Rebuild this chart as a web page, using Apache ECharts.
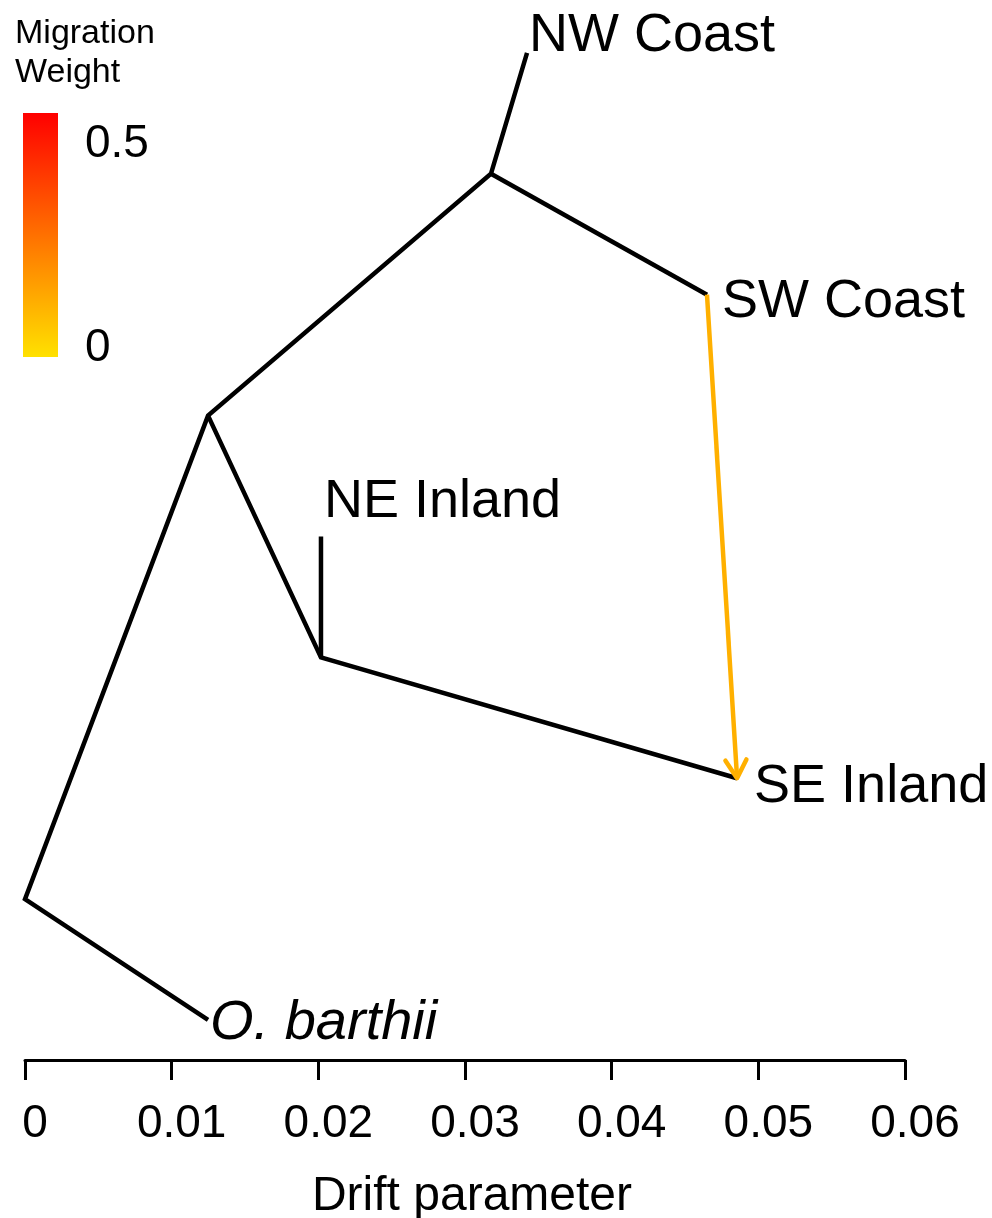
<!DOCTYPE html>
<html>
<head>
<meta charset="utf-8">
<script src="https://cdn.jsdelivr.net/npm/echarts@6/dist/echarts.min.js"></script>
<style>
  html, body { margin: 0; padding: 0; background: #ffffff; }
  #chart { width: 992px; height: 1218px; }
</style>
</head>
<body>
<div id="chart"></div>
<script>
// Tree nodes: drift (x) and vertical order (y; tips are 1..5, internal nodes sit between)
const nodeNames = ['root', 'O. barthii', 'A', 'B', 'NW Coast', 'SW Coast', 'C', 'NE Inland', 'SE Inland'];
const nodeDrift = [0.0, 0.01248, 0.01248, 0.03177, 0.03423, 0.0465, 0.02018, 0.02018, 0.04855];
const nodeOrder = [1.5, 1, 3.5, 4.5, 5, 4, 2.5, 3, 2];

// Branch chains through the tree (each drawn as one connected stroke)
const branchChains = [
  ['O. barthii', 'root', 'A', 'B', 'NW Coast'],
  ['B', 'SW Coast'],
  ['A', 'C', 'SE Inland'],
  ['C', 'NE Inland']
];

// Tip labels
const tipNames = ['NW Coast', 'SW Coast', 'NE Inland', 'SE Inland', 'O. barthii'];

// Migration edges
const migFrom = ['SW Coast'];
const migTo = ['SE Inland'];
const migWeight = [0.11];

// Drift axis ticks
const driftTicks = [0, 0.01, 0.02, 0.03, 0.04, 0.05, 0.06];
const driftTickLabels = ['0', '0.01', '0.02', '0.03', '0.04', '0.05', '0.06'];

// Migration weight colour scale
const weightMax = 0.5;
const weightLowColor = [255, 225, 0];
const weightHighColor = [255, 0, 0];

function weightColor(w) {
  const t = Math.max(0, Math.min(1, w / weightMax));
  const c = weightLowColor.map((v, i) => Math.round(v + (weightHighColor[i] - v) * t));
  return 'rgb(' + c.join(',') + ')';
}

function nodePoint(name) {
  const i = nodeNames.indexOf(name);
  return [nodeDrift[i], nodeOrder[i]];
}

const FONT = "'Liberation Sans', Arial, sans-serif";

// Label placement for each tip
const tipLabelStyle = {
  'NW Coast':   { offset: [2, -17], fontSize: 54 },
  'SW Coast':   { offset: [15, 7], fontSize: 54 },
  'NE Inland':  { offset: [3, -34], fontSize: 54 },
  'SE Inland':  { offset: [17, 9], fontSize: 54 },
  'O. barthii': { offset: [2, 3], fontSize: 56, fontStyle: 'italic' }
};

const series = [];

branchChains.forEach(chain => {
  series.push({
    type: 'line',
    data: chain.map(nodePoint),
    symbol: 'none',
    silent: true,
    animation: false,
    lineStyle: { color: '#000000', width: 4.5, cap: 'butt', join: 'miter' },
    z: 2
  });
});

series.push({
  type: 'scatter',
  symbolSize: 0,
  silent: true,
  animation: false,
  itemStyle: { opacity: 1 },
  data: tipNames.map(n => {
    const st = tipLabelStyle[n];
    return {
      name: n,
      value: nodePoint(n),
      label: {
        show: true,
        position: 'right',
        distance: 0,
        offset: st.offset,
        color: '#000000',
        opacity: 1,
        fontFamily: FONT,
        fontSize: st.fontSize,
        fontStyle: st.fontStyle || 'normal'
      }
    };
  }),
  label: {
    show: true,
    formatter: p => p.name,
    color: '#000000',
    opacity: 1
  },
  z: 3
});

// Migration arrows drawn with an open V head
series.push({
  type: 'custom',
  silent: true,
  animation: false,
  data: migFrom.map((f, i) => {
    const a = nodePoint(f), b = nodePoint(migTo[i]);
    return [a[0], a[1], b[0], b[1], migWeight[i]];
  }),
  encode: { x: [0, 2], y: [1, 3] },
  renderItem: function (params, api) {
    const p0 = api.coord([api.value(0), api.value(1)]);
    const p1 = api.coord([api.value(2), api.value(3)]);
    const col = weightColor(api.value(4));
    const ang = Math.atan2(p1[1] - p0[1], p1[0] - p0[0]);
    const headLen = 21, spread = Math.PI / 6;
    const h1 = [p1[0] - headLen * Math.cos(ang - spread), p1[1] - headLen * Math.sin(ang - spread)];
    const h2 = [p1[0] - headLen * Math.cos(ang + spread), p1[1] - headLen * Math.sin(ang + spread)];
    const style = { stroke: col, lineWidth: 4.5, fill: null, lineCap: 'round', lineJoin: 'round' };
    return {
      type: 'group',
      children: [
        { type: 'line', shape: { x1: p0[0], y1: p0[1], x2: p1[0], y2: p1[1] }, style: Object.assign({}, style, { lineCap: 'butt' }) },
        { type: 'polyline', shape: { points: [h1, p1, h2] }, style: style }
      ]
    };
  },
  z: 4
});

const chart = echarts.init(document.getElementById('chart'), null, { renderer: 'canvas' });

chart.setOption({
  backgroundColor: '#ffffff',
  animation: false,
  grid: { left: 25, right: 87, top: 0, bottom: 158, containLabel: false, outerBoundsMode: 'none' },
  xAxis: {
    type: 'value',
    min: driftTicks[0],
    max: driftTicks[driftTicks.length - 1],
    interval: driftTicks[1] - driftTicks[0],
    splitLine: { show: false },
    axisLine: { show: true, onZero: false, lineStyle: { color: '#000000', width: 3 } },
    axisTick: { show: true, inside: false, length: 20, lineStyle: { color: '#000000', width: 3 } },
    axisLabel: {
      show: true,
      margin: 41,
      color: '#000000',
      fontFamily: FONT,
      fontSize: 46,
      padding: [0, 0, 0, 20],
      showMinLabel: true,
      showMaxLabel: true,
      hideOverlap: false,
      formatter: v => {
        const i = driftTicks.findIndex(t => Math.abs(t - v) < 1e-9);
        return i >= 0 ? driftTickLabels[i] : '';
      }
    },
    name: 'Drift parameter',
    nameLocation: 'middle',
    nameGap: 113,
    nameTextStyle: { color: '#000000', fontFamily: FONT, fontSize: 48, padding: [0, 0, 0, 14] }
  },
  yAxis: {
    type: 'value',
    show: false,
    min: 0.8345,
    max: 5.219,
    splitLine: { show: false }
  },
  graphic: [
    { type: 'text', x: 15, y: 34, style: { text: 'Migration', font: '34px ' + FONT, fill: '#000000', verticalAlign: 'middle' } },
    { type: 'text', x: 15, y: 73, style: { text: 'Weight', font: '34px ' + FONT, fill: '#000000', verticalAlign: 'middle' } },
    {
      type: 'rect',
      shape: { x: 23, y: 113, width: 35, height: 244 },
      style: {
        fill: new echarts.graphic.LinearGradient(0, 0, 0, 1, [
          { offset: 0, color: weightColor(weightMax) },
          { offset: 1, color: weightColor(0) }
        ])
      }
    },
    { type: 'text', x: 85, y: 144, style: { text: '0.5', font: '46px ' + FONT, fill: '#000000', verticalAlign: 'middle' } },
    { type: 'text', x: 85, y: 348, style: { text: '0', font: '46px ' + FONT, fill: '#000000', verticalAlign: 'middle' } }
  ],
  series: series
});
</script>
</body>
</html>
